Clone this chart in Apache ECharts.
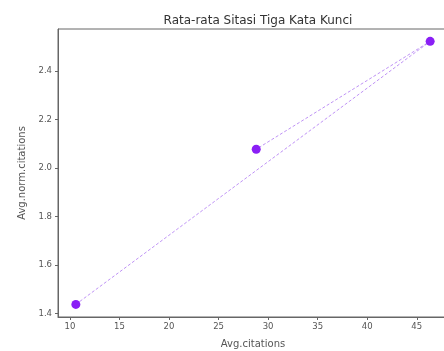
<!DOCTYPE html>
<html>
<head>
<meta charset="utf-8">
<script src="https://cdn.jsdelivr.net/npm/echarts@6/dist/echarts.min.js"></script>
<style>
  html, body { margin: 0; padding: 0; background: #fff; }
  #chart { width: 444px; height: 351px; }
</style>
</head>
<body>
<div id="chart"></div>
<script>
  // data
  var avgCitations = [10.6, 46.35, 28.8];
  var avgNormCitations = [1.438, 2.523, 2.078];
  var points = avgCitations.map(function(x, i) { return [x, avgNormCitations[i]]; });

  var tickFont = { fontFamily: 'DejaVu Sans', fontSize: 8.5, color: '#555' };
  var nameFont = { fontFamily: 'DejaVu Sans', fontSize: 10, color: '#555' };

  var option = {
    animation: false,
    title: {
      text: 'Rata-rata Sitasi Tiga Kata Kunci',
      left: 253, top: 10, textAlign: 'center',
      textStyle: { fontFamily: 'DejaVu Sans', fontSize: 12, fontWeight: 'normal', color: '#333' }
    },
    grid: {
      left: 58, top: 29, width: 390, bottom: 34,
      outerBoundsMode: 'none', containLabel: false,
      show: true, borderColor: '#666', borderWidth: 1
    },
    xAxis: {
      type: 'value', min: 8.8, max: 48.15, splitNumber: 8, minInterval: 5, maxInterval: 5,
      name: 'Avg.citations', nameLocation: 'middle', nameGap: 22,
      nameTextStyle: nameFont,
      axisLine: { show: true, lineStyle: { color: '#666' } },
      axisTick: { show: true, length: 3, lineStyle: { color: '#666' } },
      axisLabel: Object.assign({ margin: 5, showMinLabel: false, showMaxLabel: false }, tickFont),
      splitLine: { show: false }
    },
    yAxis: {
      type: 'value', min: 1.386, max: 2.574, splitNumber: 6, minInterval: 0.2, maxInterval: 0.2,
      name: 'Avg.norm.citations', nameLocation: 'middle', nameGap: 31,
      nameTextStyle: nameFont,
      axisLine: { show: true, lineStyle: { color: '#666' } },
      axisTick: { show: true, length: 3, lineStyle: { color: '#666' } },
      axisLabel: Object.assign({
        margin: 6, showMinLabel: false, showMaxLabel: false,
        formatter: function(v) { return v.toFixed(1); }
      }, tickFont),
      splitLine: { show: false }
    },
    series: [{
      type: 'line',
      data: points,
      symbol: 'circle',
      symbolSize: 9,
      itemStyle: { color: '#8a1ff5' },
      lineStyle: { color: '#9a55f0', width: 0.8, type: [3, 2], opacity: 0.8 }
    }]
  };

  echarts.init(document.getElementById('chart')).setOption(option);
</script>
</body>
</html>
